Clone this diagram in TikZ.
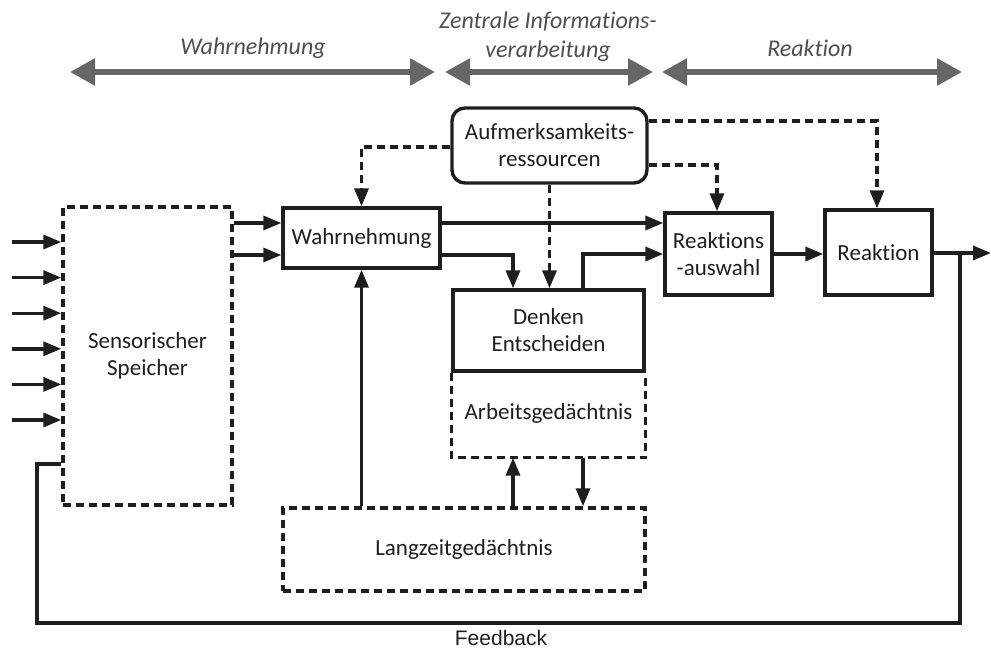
\documentclass[tikz,border=0pt]{standalone}
\usepackage{fontspec}
\setmainfont{Carlito}[Ligatures={NoCommon,NoRare}]
\newfontfamily\fbfont{Liberation Sans}
\usetikzlibrary{arrows.meta}
\definecolor{ink}{HTML}{1E1E1E}
\definecolor{band}{HTML}{666666}
\definecolor{bandtext}{HTML}{4F4F4F}

\begin{document}
\begin{tikzpicture}[x=1pt,y=-1pt,
  solidbox/.style={draw=ink, line width=3.4pt, text=ink, align=center, inner sep=0pt,
    font=\fontsize{23}{27}\selectfont},
  dashbox/.style={solidbox, dash pattern=on 8pt off 5pt},
  plainline/.style={draw=ink, line width=3.4pt},
  conn/.style={plainline, -{Triangle[length=18pt,width=14pt]}},
  dconn/.style={conn, dash pattern=on 8pt off 5pt},
  band/.style={draw=band, line width=5.5pt,
    {Triangle[length=25pt,width=26pt]}-{Triangle[length=25pt,width=26pt]}},
  hdr/.style={text=bandtext, align=center, inner sep=0pt,
    font=\fontsize{24}{29}\selectfont\itshape},
]
\useasboundingbox (0,0) rectangle (991,650);

% phase bands along the top
\coordinate (b1l) at (70,72);  \coordinate (b1r) at (435,72);
\coordinate (b2l) at (445,72); \coordinate (b2r) at (653,72);
\coordinate (b3l) at (662,72); \coordinate (b3r) at (962,72);
\draw[band] (b1l) -- (b1r);
\draw[band] (b2l) -- (b2r);
\draw[band] (b3l) -- (b3r);
\node[hdr] (hw) at (253,48) {Wahrnehmung};
\node[hdr] (hz) at (548,37) {Zentrale Informations-\\verarbeitung};
\node[hdr] (hr) at (810,48) {Reaktion};

% stages
\node[dashbox, minimum width=169pt, minimum height=298pt] (ss) at (147.5,356)
  {Sensorischer\\Speicher};
\node[solidbox, minimum width=157pt, minimum height=60pt] (wahr) at (361.5,238) {Wahrnehmung};
\node[solidbox, rounded corners=13pt, minimum width=195pt, minimum height=75pt] (aufm)
  at (549.5,145.5) {Aufmerksamkeits-\\ressourcen};
\node[solidbox, minimum width=191pt, minimum height=81pt] (denk) at (548.5,330.5)
  {Denken\\Entscheiden};
\node[solidbox, draw=none, minimum width=191pt, minimum height=85pt] (arb) at (548.5,413.5)
  {Arbeitsgedächtnis};
\draw[plainline, dash pattern=on 8pt off 5pt]
  ([yshift=-4pt]arb.north west) -- (arb.south west) -- (arb.south east) -- ([yshift=-4pt]arb.north east);
\node[dashbox, minimum width=362pt, minimum height=83pt] (lzg) at (464,549.5) {Langzeitgedächtnis};
\node[solidbox, minimum width=107pt, minimum height=82pt] (rausw) at (718.5,254)
  {Reaktions\\-auswahl};
\node[solidbox, minimum width=107pt, minimum height=85pt] (reak) at (878.5,252.5) {Reaktion};

% sensory inputs
\foreach \yy [count=\i] in {242,277.6,313.2,348.8,384.4,420} {
  \coordinate (in\i) at (12,\yy);
  \draw[conn] (in\i) -- (in\i -| ss.west);
}

% sensory store to perception
\coordinate (s1) at ([yshift=15pt]wahr.west);
\coordinate (s2) at ([yshift=-17pt]wahr.west);
\draw[conn] (s1 -| ss.east) -- (s1);
\draw[conn] (s2 -| ss.east) -- (s2);

% perception onwards
\coordinate (w1) at ([yshift=15pt]wahr.east);
\draw[conn] (w1) -- (w1 -| rausw.west);
\draw[conn] ([yshift=-17pt]wahr.east) -| ([xshift=-35.5pt]denk.north);
\draw[conn] ([xshift=34.5pt]denk.north) |- (rausw.west);
\draw[conn] (rausw.east) -- (rausw.east -| reak.west);

% attention resources
\draw[dconn] ([yshift=-1.5pt]aufm.west) -| (wahr.north);
\draw[dconn] (aufm.south) -- (aufm.south |- denk.north);
\draw[dconn] ([yshift=-19.5pt]aufm.east) -| ([xshift=-1.5pt]rausw.north);
\draw[dconn] ([yshift=24.5pt]aufm.east) -| ([xshift=-1.5pt]reak.north);

% long-term memory links
\draw[conn] (wahr.south |- lzg.north) -- (wahr.south);
\draw[conn] ([xshift=-35.5pt]arb.south |- lzg.north) -- ([xshift=-35.5pt]arb.south);
\draw[conn] ([xshift=34.5pt]arb.south) -- ([xshift=34.5pt]arb.south |- lzg.north);

% response output and feedback loop
\coordinate (out) at (991,253);
\coordinate (fb) at (960,253);
\coordinate (fbturn) at (37,623);
\coordinate (fbin) at (37,464);
\draw[conn] (reak.east |- out) -- (out);
\draw[plainline] (fb) |- (fbturn) -- (fbin) -- (fbin -| ss.west);
\node[text=ink, inner sep=0pt, font=\fontsize{21}{25}\fbfont] (fbl) at (501,638) {Feedback};
\end{tikzpicture}
\end{document}
